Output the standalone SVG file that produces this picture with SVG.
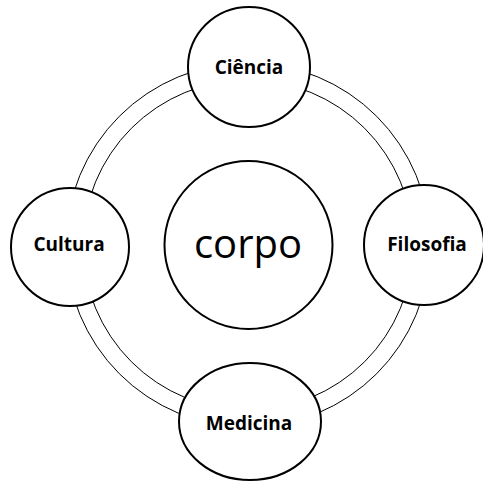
<svg xmlns="http://www.w3.org/2000/svg" width="483" height="483" viewBox="0 0 483 483">
<style>
.ring{fill:none;stroke:#000;stroke-width:1}
.node{fill:#fff;stroke:#000;stroke-width:2}
.lbl{font-family:"Open Sans","Liberation Sans",sans-serif;font-weight:bold;font-size:19px;text-anchor:middle;fill:#000}
.big{font-family:"Open Sans","Liberation Sans",sans-serif;font-size:40px;text-anchor:middle;fill:#000}
</style>
<rect width="483" height="483" fill="#fff"/>
<g id="connectors">
<circle class="ring" cx="248" cy="245" r="182"/>
<circle class="ring" cx="248" cy="245" r="165"/>
</g>
<g id="corpo">
<circle class="node" cx="248.5" cy="245" r="84"/>
<text class="big" x="248" y="258">corpo</text>
</g>
<g id="ciencia">
<ellipse class="node" cx="249" cy="67" rx="61" ry="60"/>
<text class="lbl" x="249" y="74">Ciência</text>
</g>
<g id="filosofia">
<circle class="node" cx="424" cy="245" r="60"/>
<text class="lbl" x="427" y="251">Filosofia</text>
</g>
<g id="cultura">
<circle class="node" cx="70" cy="247" r="59"/>
<text class="lbl" x="69" y="251">Cultura</text>
</g>
<g id="medicina">
<ellipse class="node" cx="250" cy="421.5" rx="71" ry="58.5"/>
<text class="lbl" x="249" y="430">Medicina</text>
</g>
</svg>
